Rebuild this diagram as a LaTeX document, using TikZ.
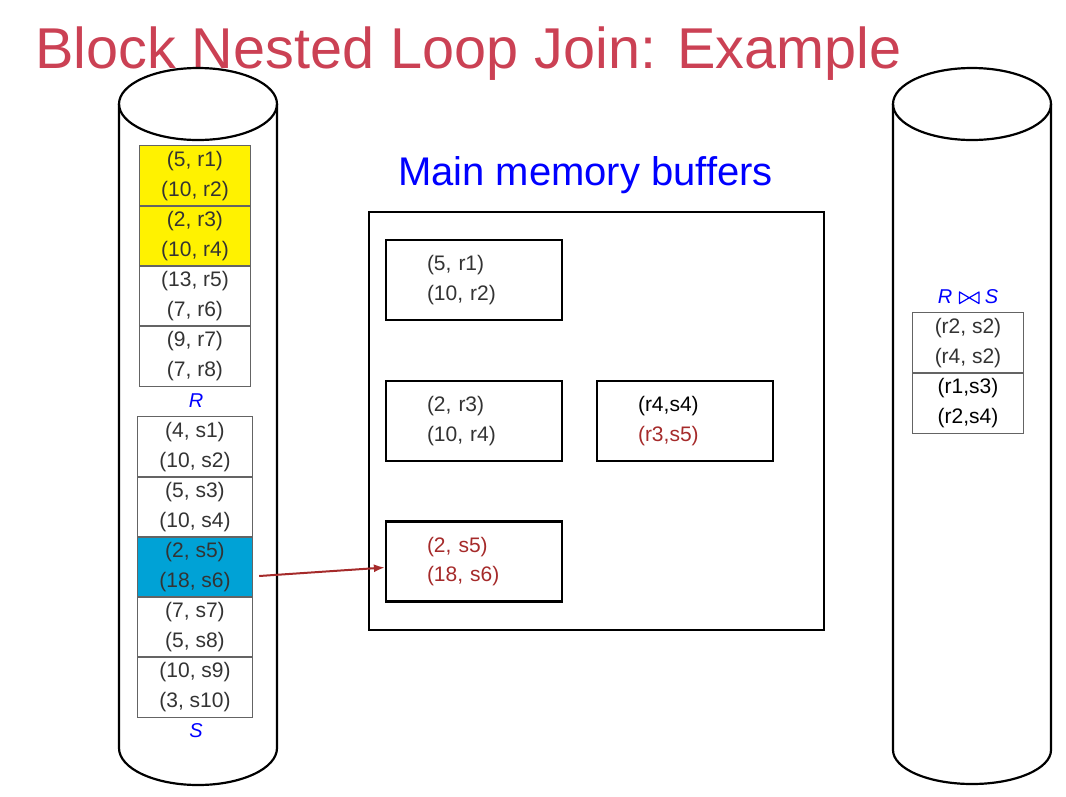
\documentclass[tikz,border=0pt]{standalone}
\usepackage{fontspec}
\setmainfont{Liberation Sans}
\usetikzlibrary{arrows.meta,calc,positioning}

\definecolor{titlered}{RGB}{203,65,84}
\definecolor{ryellow}{RGB}{255,242,0}
\definecolor{sblue}{RGB}{0,162,214}
\definecolor{darkred}{RGB}{165,42,42}
\definecolor{txtgray}{RGB}{51,51,51}
\definecolor{linegray}{RGB}{100,100,100}

\newcommand{\tabfont}{\fontsize{21}{29.5}\selectfont}

\tikzset{
  rowcell/.style={minimum width=110pt, minimum height=30pt, inner sep=0pt, font=\tabfont, text=txtgray},
  blockline/.style={draw=linegray, line width=1pt},
  drum/.style={line width=2.2pt},
  bufbox/.style={draw, line width=2.2pt, minimum width=176pt, minimum height=80pt,
    inner xsep=41pt, inner ysep=0pt, text width=94pt, align=left, font=\tabfont, text=txtgray},
  relname/.style={font=\fontsize{20}{24}\selectfont\itshape, text=blue, inner sep=0pt},
  fetch/.style={draw=darkred, line width=2pt, -{Latex[length=11pt,width=8pt]}}
}

\begin{document}
\begin{tikzpicture}[x=1pt,y=-1pt]
  \useasboundingbox (0,0) rectangle (1066,796);

  % title
  \node[anchor=base west, inner sep=0pt, text=titlered, font=\fontsize{57.6}{60}\selectfont]
    (title) at (35,68) {Block Nested Loop Join: Example};

  % disks
  \draw[drum] (198,104) ellipse [x radius=79, y radius=36];
  \draw[drum] (119,104) -- (119,748) arc[start angle=180, end angle=0, x radius=79, y radius=37] -- (277,104);
  \draw[drum] (972,104) ellipse [x radius=79, y radius=36];
  \draw[drum] (893,104) -- (893,750) arc[start angle=180, end angle=0, x radius=79, y radius=34] -- (1051,104);

  % relation R
  \foreach \txt/\col [count=\i] in {{(5, r1)}/ryellow, {(10, r2)}/ryellow, {(2, r3)}/ryellow, {(10, r4)}/ryellow,
      {(13, r5)}/white, {(7, r6)}/white, {(9, r7)}/white, {(7, r8)}/white}
    \node[rowcell, fill=\col] (R\i) at (195,131+30*\i) {\txt};
  \foreach \a/\b in {1/2,3/4,5/6,7/8}
    \draw[blockline] (R\a.north west) rectangle (R\b.south east);
  \node[relname] (Rname) at (196,401) {R};

  % relation S
  \foreach \txt/\col [count=\i] in {{(4, s1)}/white, {(10, s2)}/white, {(5, s3)}/white, {(10, s4)}/white,
      {(2, s5)}/sblue, {(18, s6)}/sblue, {(7, s7)}/white, {(5, s8)}/white, {(10, s9)}/white, {(3, s10)}/white}
    \node[rowcell, minimum width=114pt, fill=\col] (S\i) at (195,402+30*\i) {\txt};
  \foreach \a/\b in {1/2,3/4,5/6,7/8,9/10}
    \draw[blockline] (S\a.north west) rectangle (S\b.south east);
  \node[relname] (Sname) at (196,731) {S};

  % result R join S
  \node[relname] (JR) at (945,297) {R};
  \node[relname] (JS) at (991.5,297) {S};
  \draw[blue, line width=1.2pt, line join=round] (959.5,292) -- (959.5,303.5) -- (979,292) -- (979,303.5) -- cycle;
  \foreach \txt/\col [count=\i] in {{(r2, s2)}/txtgray, {(r4, s2)}/txtgray, {(r1,s3)}/black, {(r2,s4)}/black}
    \node[rowcell, text=\col] (J\i) at (968,298+30*\i) {\txt};
  \foreach \a/\b in {1/2,3/4}
    \draw[blockline] (J\a.north west) rectangle (J\b.south east);

  % main memory
  \node[anchor=base, inner sep=0pt, text=blue, font=\fontsize{40}{44}\selectfont]
    (memname) at (585.5,185) {Main memory buffers};
  \node[draw, line width=2.2pt, minimum width=455pt, minimum height=418pt] (mem) at (596.5,421) {};
  \node[bufbox] (B1) at (474,280) {(5, r1)\\(10, r2)};
  \node[bufbox] (B2) at (474,421) {(2, r3)\\(10, r4)};
  \node[bufbox, text=darkred] (B3) at (474,561.5) {(2, s5)\\(18, s6)};
  \node[bufbox] (B4) at (685,421) {\textcolor{black}{(r4,s4)}\\\textcolor{darkred}{(r3,s5)}};

  \coordinate (fetchstart) at ($(S6.east)+(7,-6)$);
  \draw[fetch] (fetchstart) -- ([yshift=-6pt]B3.west);
\end{tikzpicture}
\end{document}
